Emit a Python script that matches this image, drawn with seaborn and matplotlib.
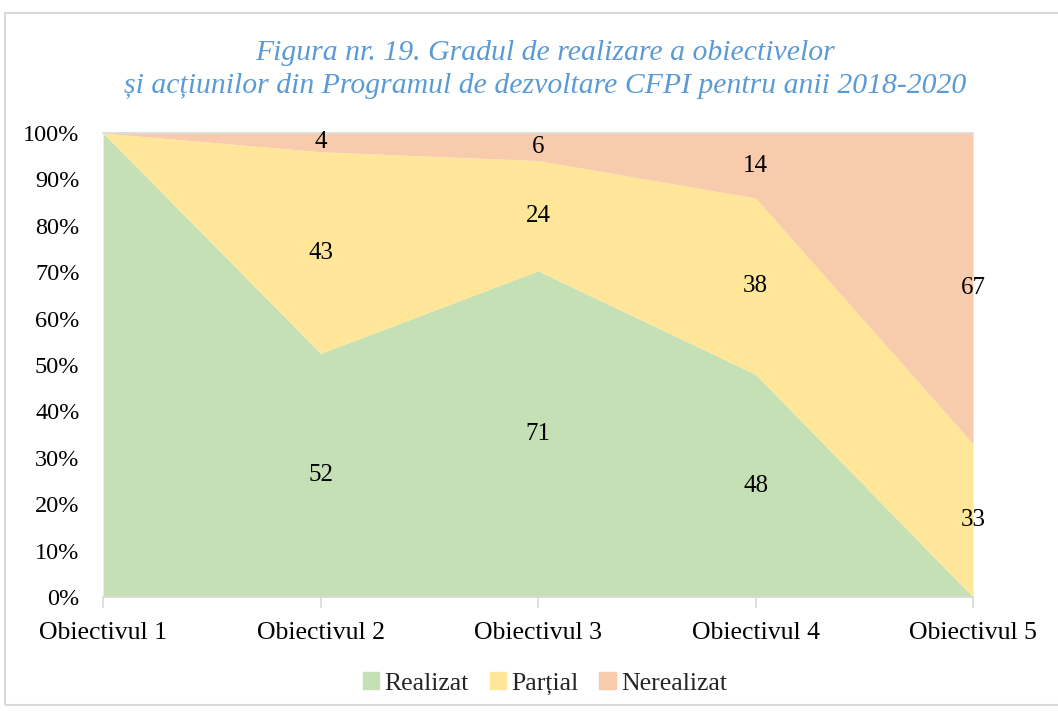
import matplotlib.pyplot as plt
import matplotlib.patches as mpatches
import seaborn as sns
import numpy as np

categories = ['Obiectivul 1', 'Obiectivul 2', 'Obiectivul 3', 'Obiectivul 4', 'Obiectivul 5']
realizat = [100, 52, 71, 48, 0]
partial = [0, 43, 24, 38, 33]
nerealizat = [0, 4, 6, 14, 67]
series_names = ['Realizat', 'Parțial', 'Nerealizat']
colors = ['#C5E0B4', '#FFE699', '#F8CBAD']

sns.set_theme(style='white')
plt.rcParams['font.family'] = ['Liberation Serif', 'DejaVu Serif']

fig = plt.figure(figsize=(10.58, 7.11), dpi=100)
ax = fig.add_axes([0.0974, 0.1603, 0.8223, 0.6526])

# outer chart frame
fig.patches.append(mpatches.Rectangle((5 / 1058, 6 / 711), 1.1, 692 / 711, transform=fig.transFigure,
                                      fill=False, edgecolor='#D9D9D9', linewidth=1.5))

data = np.array([realizat, partial, nerealizat], dtype=float)
pct = data / data.sum(axis=0) * 100
x = np.arange(len(categories))
ax.stackplot(x, pct, colors=colors, labels=series_names, linewidth=0)

# data labels in the middle of each band (skip first category and zeros)
cum = np.cumsum(pct, axis=0)
for j in range(1, len(categories)):
    for i in range(len(series_names)):
        if data[i, j] == 0:
            continue
        mid = cum[i, j] - pct[i, j] / 2
        ax.text(x[j], mid, f'{int(data[i, j])}', ha='center', va='center', fontsize=18, color='black')

ax.set_xlim(0, len(categories) - 1)
ax.set_ylim(0, 100)
ax.set_yticks(np.arange(0, 101, 10))
ax.set_yticklabels([f'{v}%' for v in range(0, 101, 10)], fontsize=17.5, color='black')
ax.set_xticks(x)
ax.set_xticklabels(categories, fontsize=18.5, color='black')
ax.tick_params(axis='x', which='major', length=8, color='#D9D9D9', width=1.2, pad=10, bottom=True)
ax.tick_params(axis='y', length=0, pad=17)

for s in ['left', 'right']:
    ax.spines[s].set_visible(False)
ax.spines['top'].set_color('#D9D9D9')
ax.spines['top'].set_linewidth(1.2)
ax.spines['bottom'].set_color('#D9D9D9')
ax.spines['bottom'].set_linewidth(1.2)

fig.text(0.5155, 0.902, 'Figura nr. 19. Gradul de realizare a obiectivelor\nși acțiunilor din Programul de dezvoltare CFPI pentru anii 2018-2020',
         ha='center', va='center', fontsize=21.4, style='italic', color='#5B9BD5', linespacing=1.38)

handles = [mpatches.Patch(color=c, label=n) for c, n in zip(colors, series_names)]
fig.legend(handles=handles, loc='center', bbox_to_anchor=(0.515, 0.039), ncol=3, frameon=False,
           fontsize=18.5, handlelength=0.65, handleheight=0.65, handletextpad=0.2, columnspacing=0.8)

fig.savefig('out.png', dpi=100)
